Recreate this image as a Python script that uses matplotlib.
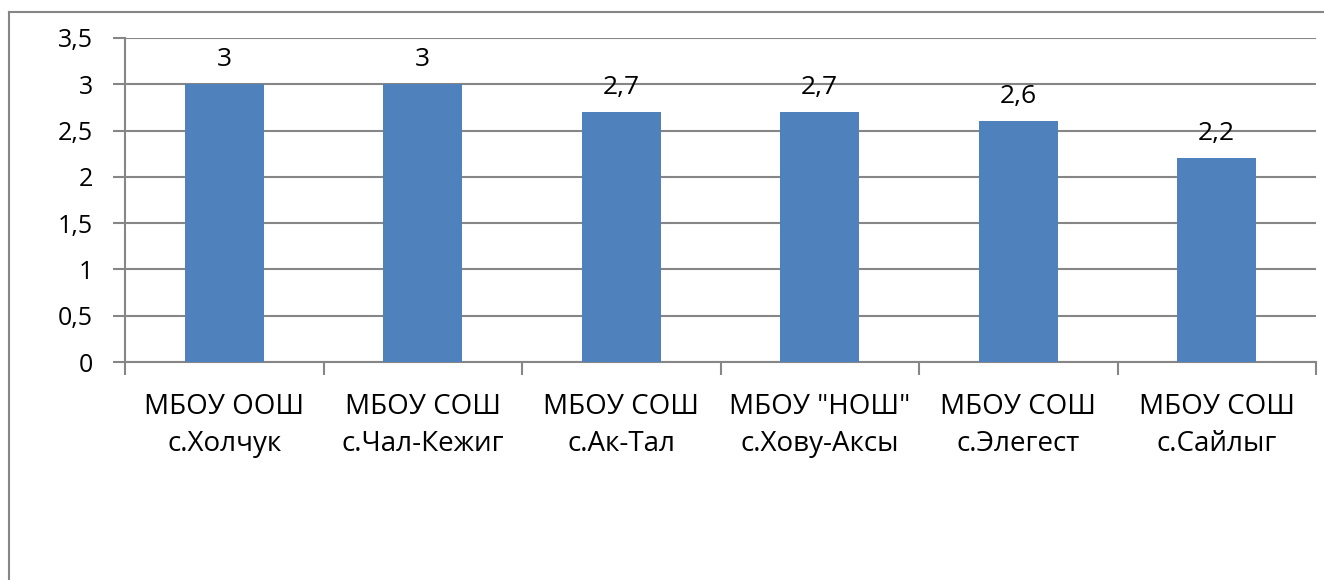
import matplotlib.pyplot as plt
from matplotlib.lines import Line2D

# chart data
schools = ['МБОУ ООШ\nс.Холчук', 'МБОУ СОШ\nс.Чал-Кежиг', 'МБОУ СОШ\nс.Ак-Тал',
           'МБОУ "НОШ"\nс.Хову-Аксы', 'МБОУ СОШ\nс.Элегест', 'МБОУ СОШ\nс.Сайлыг']
scores = [3, 3, 2.7, 2.7, 2.6, 2.2]
y_ticks = [0, 0.5, 1, 1.5, 2, 2.5, 3, 3.5]

plt.rcParams['font.family'] = ['Open Sans', 'DejaVu Sans']
grid_col = '#868686'

fig = plt.figure(figsize=(13.24, 5.8), dpi=100)
ax = fig.add_axes([125 / 1324, 1 - 362 / 580, (1316 - 125) / 1324, (362 - 38) / 580])

x = range(len(scores))
ax.bar(x, scores, width=0.4, color='#4F81BD', zorder=3)

for xi, v in zip(x, scores):
    ax.annotate(f'{v:g}'.replace('.', ','), (xi, v), xytext=(0, 9), textcoords='offset points',
                ha='center', va='bottom', fontsize=19)

ax.set_xlim(-0.5, len(scores) - 0.5)
ax.set_ylim(0, 3.5)
ax.set_yticks(y_ticks)
ax.set_yticklabels([f'{t:g}'.replace('.', ',') for t in y_ticks], fontsize=18)
ax.grid(axis='y', color=grid_col, linewidth=1.5, zorder=0)

# category ticks at the boundaries, labels at centres
ax.set_xticks([i - 0.5 for i in range(len(scores) + 1)])
ax.set_xticklabels([])
ax.set_xticks(list(x), minor=True)
ax.set_xticklabels(schools, minor=True, fontsize=20, linespacing=1.45)
ax.tick_params(axis='x', which='major', length=9, width=1.5, color=grid_col)
ax.tick_params(axis='x', which='minor', length=0, pad=22)
ax.tick_params(axis='y', length=9, width=1.5, color=grid_col, pad=14)

for s in ['top', 'right']:
    ax.spines[s].set_visible(False)
for s in ['left', 'bottom']:
    ax.spines[s].set_color(grid_col)
    ax.spines[s].set_linewidth(1.5)

# outer chart border (only left and top visible in the crop)
fig.add_artist(Line2D([9 / 1324, 9 / 1324], [0, 1 - 12 / 580], color=grid_col, lw=1.5))
fig.add_artist(Line2D([9 / 1324, 1], [1 - 12 / 580, 1 - 12 / 580], color=grid_col, lw=1.5))

fig.savefig('out.png', dpi=100)
